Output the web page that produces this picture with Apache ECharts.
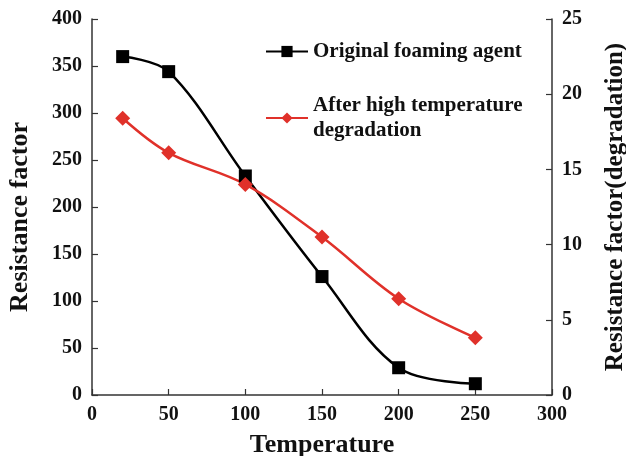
<!DOCTYPE html>
<html>
<head>
<meta charset="utf-8">
<script src="https://cdn.jsdelivr.net/npm/echarts@6/dist/echarts.min.js"></script>
<style>
  html, body { margin: 0; padding: 0; background: #fff; }
  #chart { width: 626px; height: 456px; }
</style>
</head>
<body>
<div id="chart"></div>
<script>
const temperatures = [20, 50, 100, 150, 200, 250];
const originalAgent = [360, 344, 233, 126, 29, 12];
const afterDegradation = [18.4, 16.1, 14.0, 10.5, 6.4, 3.8];

const seriesNames = ['Original foaming agent', 'After high temperature\ndegradation'];

const font = 'Liberation Serif';
const labelStyle = {
    fontFamily: font,
    fontWeight: 'bold',
    fontSize: 20,
    color: '#111'
};
const nameStyle = { ...labelStyle, fontSize: 26 };

const axisLine = { show: true, lineStyle: { color: '#333', width: 1.5 } };
const axisTick = { show: true, inside: true, length: 6, lineStyle: { color: '#333', width: 1.2 } };

const myChart = echarts.init(document.getElementById('chart'));

const option = {
    animation: false,
    backgroundColor: '#fff',
    grid: {
        left: 92,
        right: 74,
        top: 19,
        bottom: 61,
        outerBoundsMode: 'none'
    },
    legend: {
        orient: 'vertical',
        left: 260,
        top: 34,
        itemWidth: 42,
        itemHeight: 14,
        itemGap: 29,
        selectedMode: false,
        data: seriesNames,
        textStyle: { ...labelStyle, fontSize: 21, lineHeight: 25 }
    },
    xAxis: {
        type: 'value',
        min: 0,
        max: 300,
        interval: 50,
        name: 'Temperature',
        nameLocation: 'middle',
        nameGap: 37,
        nameTextStyle: nameStyle,
        axisLine: axisLine,
        axisTick: axisTick,
        axisLabel: { ...labelStyle, margin: 10 },
        splitLine: { show: false }
    },
    yAxis: [
        {
            type: 'value',
            min: 0,
            max: 400,
            interval: 50,
            name: 'Resistance factor',
            nameLocation: 'middle',
            nameGap: 59,
            nameTextStyle: { ...nameStyle, padding: [0, 20, 0, 0] },
            axisLine: axisLine,
            axisTick: axisTick,
            axisLabel: { ...labelStyle, margin: 10 },
            splitLine: { show: false }
        },
        {
            type: 'value',
            min: 0,
            max: 25,
            interval: 5,
            position: 'right',
            name: 'Resistance factor(degradation)',
            nameLocation: 'middle',
            nameRotate: 90,
            nameGap: 51,
            nameTextStyle: { ...nameStyle, fontSize: 25 },
            axisLine: axisLine,
            axisTick: axisTick,
            axisLabel: { ...labelStyle, margin: 10 },
            splitLine: { show: false }
        }
    ],
    series: [
        {
            name: seriesNames[0],
            type: 'line',
            yAxisIndex: 0,
            smooth: 0.35,
            symbol: 'rect',
            symbolSize: 13,
            color: '#000',
            lineStyle: { width: 2.5, color: '#000' },
            itemStyle: { color: '#000' },
            data: temperatures.map((t, i) => [t, originalAgent[i]])
        },
        {
            name: seriesNames[1],
            type: 'line',
            yAxisIndex: 1,
            smooth: 0.35,
            symbol: 'diamond',
            symbolSize: 15,
            color: '#e0312a',
            lineStyle: { width: 2.5, color: '#e0312a' },
            itemStyle: { color: '#e0312a' },
            data: temperatures.map((t, i) => [t, afterDegradation[i]])
        }
    ]
};

myChart.setOption(option);
</script>
</body>
</html>
